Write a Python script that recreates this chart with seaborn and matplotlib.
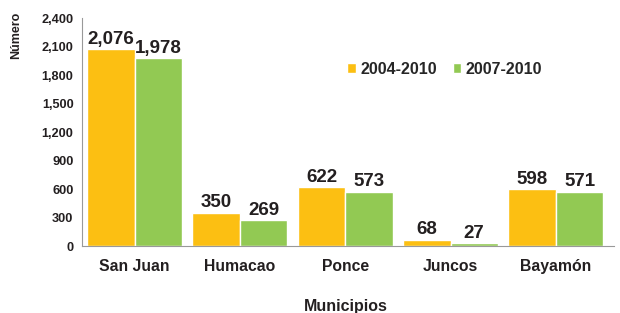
import matplotlib.pyplot as plt
import matplotlib.ticker as mticker
import seaborn as sns
import pandas as pd

municipios = ["San Juan", "Humacao", "Ponce", "Juncos", "Bayamón"]
serie_2004 = [2076, 350, 622, 68, 598]
serie_2007 = [1978, 269, 573, 27, 571]
periodos = ["2004-2010", "2007-2010"]
colores = ["#FCBF12", "#92C953"]

df = pd.DataFrame({
    "Municipios": municipios * 2,
    "Número": serie_2004 + serie_2007,
    "Periodo": [periodos[0]] * 5 + [periodos[1]] * 5,
})

sns.set_style("white")
plt.rcParams["font.family"] = ["Liberation Sans", "DejaVu Sans"]
plt.rcParams["font.weight"] = "bold"

fig = plt.figure(figsize=(6.2, 3.13), dpi=100)
ax = fig.add_axes([0.132, 0.214, 0.858, 0.728])

sns.barplot(
    data=df,
    x="Municipios",
    y="Número",
    hue="Periodo",
    palette=colores,
    width=0.9,
    saturation=1,
    ax=ax
)

for container in ax.containers:
    ax.bar_label(
        container,
        labels=[f"{v:,.0f}" for v in container.datavalues],
        padding=1,
        fontsize=13.5,
        fontweight="bold",
        color="#231F20"
    )

ax.set_xlim(-0.5, 4.55)
ax.set_ylim(0, 2400)
ax.yaxis.set_major_locator(mticker.MultipleLocator(300))
ax.yaxis.set_major_formatter(mticker.StrMethodFormatter("{x:,.0f}"))
ax.tick_params(axis="y", length=0, labelsize=9.2, pad=6, colors="#231F20")
ax.tick_params(axis="x", length=0, labelsize=11.3, pad=9, colors="#231F20")
ax.set_xticks(range(5), municipios, fontweight="bold")
ax.xaxis.set_minor_locator(mticker.FixedLocator([-0.5, 0.5, 1.5, 2.5, 3.5, 4.5]))
ax.tick_params(axis="x", which="minor", length=4, color="#999999", width=0.8)

ax.set_xlabel("Municipios", fontsize=11.5, fontweight="bold", color="#231F20")
ax.xaxis.set_label_coords(0.496, -0.232)
ax.set_ylabel("Número", fontsize=9, fontweight="bold", color="#231F20")
ax.yaxis.set_label_coords(-0.113, 0.925)

for side in ["top", "right"]:
    ax.spines[side].set_visible(False)
for side in ["left", "bottom"]:
    ax.spines[side].set_color("#999999")
    ax.spines[side].set_linewidth(0.8)

ax.legend(
    loc="center left",
    bbox_to_anchor=(0.472, 0.775),
    ncol=2,
    frameon=False,
    handlelength=0.55,
    handleheight=0.55,
    handletextpad=0.25,
    columnspacing=1.0,
    prop={"weight": "bold", "size": 11.5}
)

plt.savefig("out.png", dpi=100)
plt.close()
